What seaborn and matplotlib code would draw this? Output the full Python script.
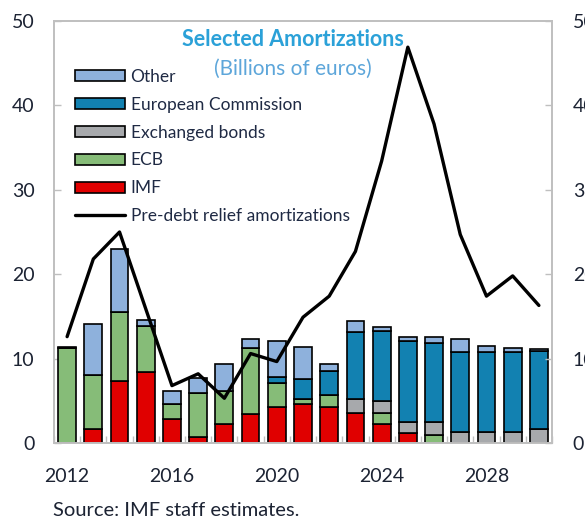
import numpy as np
import pandas as pd
import matplotlib
matplotlib.use("Agg")
import matplotlib.pyplot as plt
from matplotlib.patches import Patch
from matplotlib.lines import Line2D
import seaborn as sns

# Amortization schedule, billions of euros
years = list(range(2012, 2031))
imf = [0, 1.6, 7.3, 8.4, 2.9, 0.7, 2.3, 3.45, 4.3, 4.6, 4.3, 3.6, 2.3, 1.2, 0, 0, 0, 0, 0]
ecb = [11.2, 6.5, 8.2, 5.5, 1.7, 5.2, 3.9, 7.8, 2.8, 0.65, 1.35, 0, 1.3, 0, 1.0, 0, 0, 0, 0]
exchanged = [0, 0, 0, 0, 0, 0, 0, 0, 0, 0, 0, 1.6, 1.4, 1.3, 1.5, 1.35, 1.35, 1.35, 1.6]
european_commission = [0, 0, 0, 0, 0, 0, 0, 0, 0.7, 2.3, 2.9, 8.0, 8.3, 9.6, 9.4, 9.4, 9.4, 9.4, 9.35]
other = [0.2, 6.0, 7.5, 0.7, 1.6, 1.8, 3.2, 1.1, 4.3, 3.85, 0.85, 1.2, 0.4, 0.5, 0.7, 1.6, 0.7, 0.5, 0.2]
pre_relief = [12.6, 21.8, 25.0, 15.9, 6.8, 8.2, 5.3, 10.6, 9.65, 14.9, 17.4, 22.7,
              33.4, 46.9, 37.8, 24.7, 17.4, 19.8, 16.3]

xtick_labels = ["2012", "2016", "2020", "2024", "2028"]
ytick_values = [0, 10, 20, 30, 40, 50]

series = [
    ("IMF", imf, "#E00000"),
    ("ECB", ecb, "#86BC78"),
    ("Exchanged bonds", exchanged, "#A7A9AC"),
    ("European Commission", european_commission, "#1281B1"),
    ("Other", other, "#8EB1DC"),
]

sns.set_theme(style="white")
plt.rcParams["font.family"] = ["Lato", "DejaVu Sans"]

fig = plt.figure(figsize=(5.85, 5.23), dpi=100)
ax = fig.add_axes([54 / 585, 80 / 523, 498 / 585, 422 / 523])

df = pd.DataFrame({"year": [str(y) for y in years]})
bottom = np.zeros(len(years))
for name, vals, color in series:
    vals = np.asarray(vals, dtype=float)
    sns.barplot(x=df["year"], y=vals, bottom=bottom, color=color, width=0.68,
                edgecolor="black", linewidth=1.2, saturation=1, ax=ax)
    bottom = bottom + vals

sns.lineplot(x=np.arange(len(years)), y=pre_relief, color="black", linewidth=2.4, ax=ax)

ax.set_xlim(-0.5, len(years) - 0.5)
ax.set_ylim(0, 50)
ax.set_xlabel("")
ax.set_ylabel("")

tick_color = "#1C2333"
ax.set_xticks([years.index(int(t)) for t in xtick_labels])
ax.set_xticklabels(xtick_labels, fontsize=14, color=tick_color)
ax.set_xticks(np.arange(-0.5, len(years), 1.0), minor=True)
ax.tick_params(axis="x", which="major", length=0, pad=18)
ax.tick_params(axis="x", which="minor", length=5, width=1, color="#BFBFBF",
               direction="in", bottom=True)

ax.set_yticks(ytick_values)
ax.set_yticklabels([str(v) for v in ytick_values], fontsize=14, color=tick_color)
ax.tick_params(axis="y", length=5, width=1, color="#BFBFBF", direction="in",
               left=True, pad=14)

ax2 = ax.twinx()
ax2.set_ylim(0, 50)
ax2.set_yticks(ytick_values)
ax2.set_yticklabels([str(v) for v in ytick_values], fontsize=14, color=tick_color)
ax2.tick_params(axis="y", length=5, width=1, color="#BFBFBF", direction="in",
                right=True, pad=15)
ax2.grid(False)

for a in (ax, ax2):
    for sp in a.spines.values():
        sp.set_color("#BFBFBF")
        sp.set_linewidth(1.2)
        sp.set_visible(True)

fig.text(293 / 585, 1 - 40 / 523, "Selected Amortizations", ha="center", va="center",
         fontsize=15.5, fontweight="bold", color="#2BA1D8")
fig.text(293 / 585, 1 - 69 / 523, "(Billions of euros)", ha="center", va="center",
         fontsize=15, color="#5DA6DA")

handles = [Patch(facecolor=c, edgecolor="black", linewidth=1.2, label=n)
           for n, v, c in reversed(series)]
handles.append(Line2D([0], [0], color="black", linewidth=2.4,
                      label="Pre-debt relief amortizations"))
leg = ax.legend(handles=handles, loc="upper left",
                bbox_to_anchor=(21 / 498, 1 - 48 / 422), frameon=False,
                fontsize=12.5, handlelength=2.9, handleheight=0.6,
                handletextpad=0.3, labelspacing=0.68, borderaxespad=0,
                borderpad=0)
for t in leg.get_texts():
    t.set_color("#1F2A44")

fig.text(53 / 585, 1 - 510 / 523, "Source: IMF staff estimates.", ha="left",
         va="center", fontsize=14.5, color="#1C2333")

fig.savefig("out.png", dpi=100)
